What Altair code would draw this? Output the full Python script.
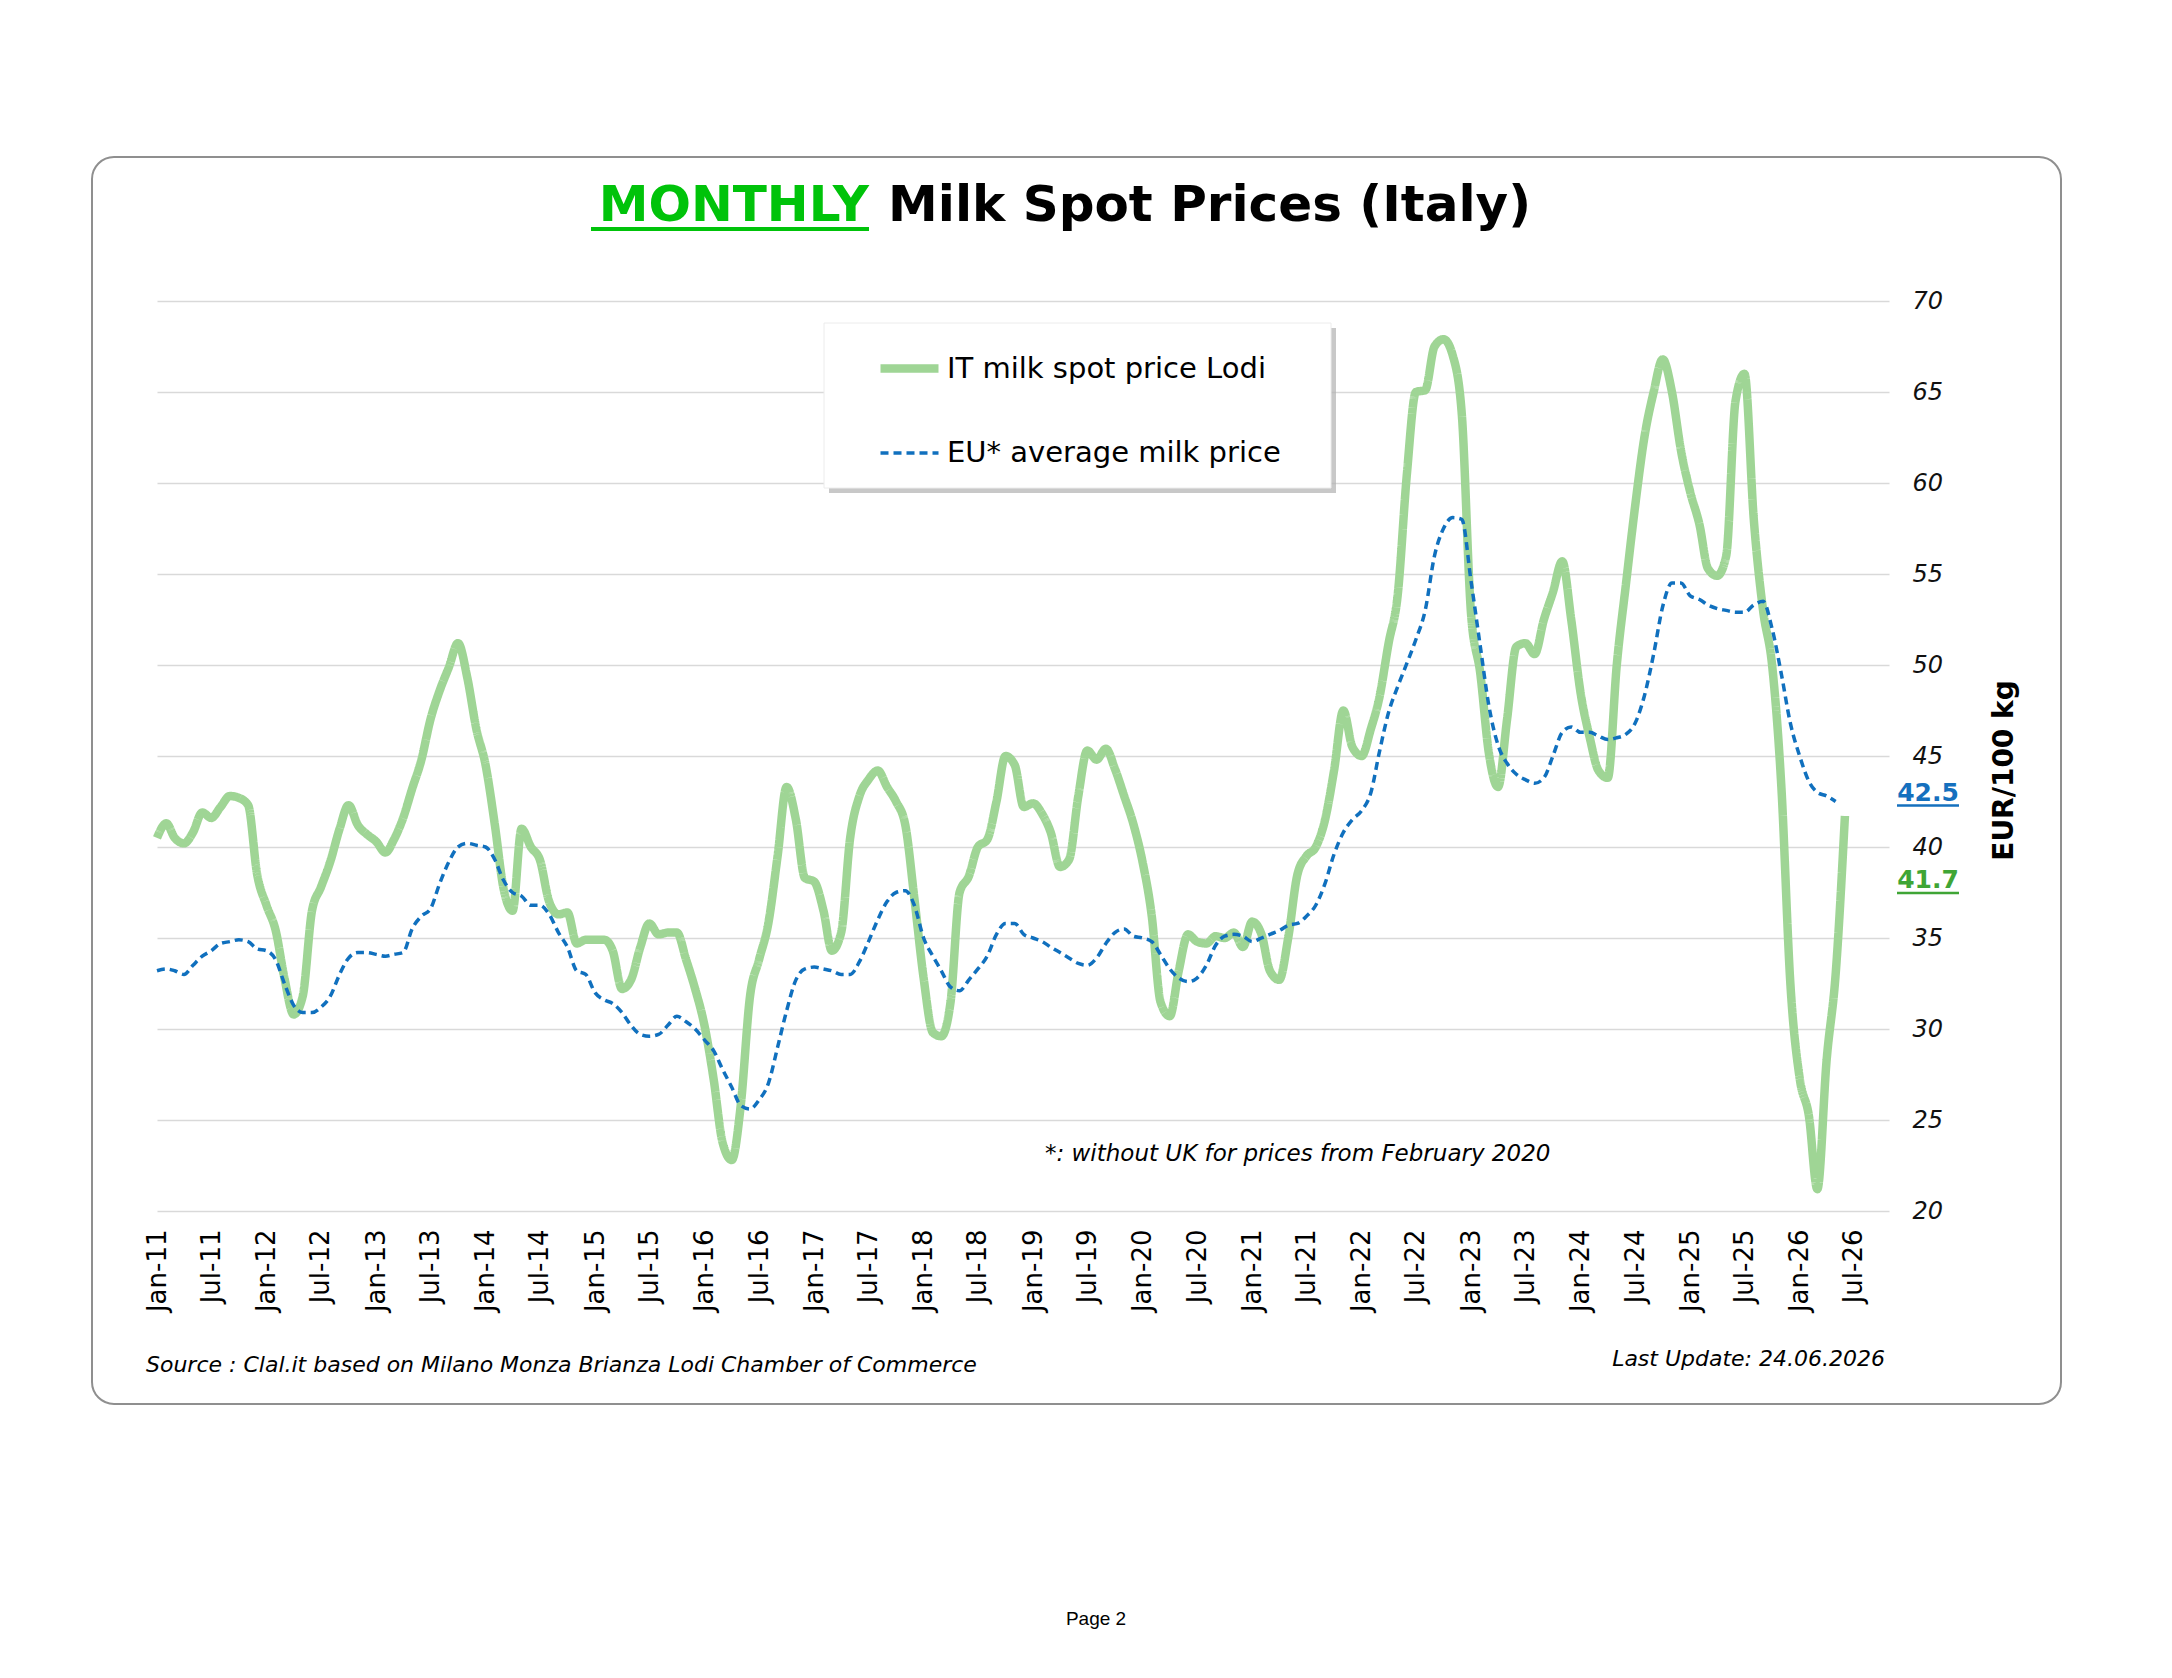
import altair as alt
import pandas as pd

# ---------------- data ----------------
series_it = "IT milk spot price Lodi"
series_eu = "EU* average milk price"

it_lodi = [
    40.5, 41.3, 40.5, 40.2, 40.8, 41.9, 41.6, 42.2, 42.8, 42.7, 42.3, 38.5,
    36.8, 35.4, 32.8, 30.8, 31.8, 36.5, 37.8, 39.2, 41.0, 42.3, 41.2, 40.7,
    40.3, 39.7, 40.4, 41.6, 43.2, 44.8, 47.0, 48.6, 49.9, 51.2, 49.3, 46.5,
    44.5, 41.2, 37.8, 36.5, 41.0, 40.0, 39.3, 37.0, 36.3, 36.4, 34.7, 34.9,
    34.9, 34.9, 34.3, 32.2, 32.7, 34.5, 35.8, 35.2, 35.3, 35.3, 33.8, 32.2,
    30.2, 27.2, 23.8, 22.8, 25.8, 31.8, 33.8, 35.8, 39.5, 43.3, 41.5, 38.3,
    38.1, 36.5, 34.3, 35.3, 40.5, 42.8, 43.7, 44.2, 43.3, 42.5, 41.2, 37.2,
    32.8, 29.8, 29.6, 31.5, 37.5, 38.4, 40.0, 40.4, 42.5, 45.0, 44.5, 42.2,
    42.4, 41.8, 40.8, 38.9, 39.3, 42.8, 45.3, 44.8, 45.4, 44.3, 42.8, 41.3,
    39.2, 36.2, 31.5, 30.7, 33.2, 35.2, 34.8, 34.7, 35.1, 35.0, 35.3, 34.5,
    35.9, 35.2, 33.2, 32.7, 35.0, 38.5, 39.5, 40.0, 41.5, 44.2, 47.5, 45.5,
    45.0, 46.5, 48.2, 51.2, 53.8, 60.5, 65.0, 65.1, 67.5, 67.9, 67.0, 63.8,
    52.8, 49.5, 45.2, 43.3, 47.0, 51.0, 51.2, 50.6, 52.5, 54.0, 55.7, 52.5,
    48.5, 46.0, 44.2, 43.8, 50.0, 54.5, 58.7, 62.5, 65.0, 66.8, 65.0, 61.8,
    59.5, 57.7, 55.3, 54.9, 56.0, 64.5, 66.0, 58.0, 53.0, 50.0, 43.3, 32.5,
    27.3, 25.2, 21.2, 28.3, 33.0, 41.7,
]

eu_avg = [
    33.2, 33.3, 33.2, 33.0, 33.5, 34.0, 34.3, 34.7, 34.8, 34.9, 34.8, 34.4,
    34.3, 33.8, 32.5, 31.3, 30.9, 30.9, 31.2, 31.8, 33.0, 33.9, 34.2, 34.2,
    34.1, 34.0, 34.1, 34.2, 35.5, 36.2, 36.6, 38.0, 39.2, 40.0, 40.2, 40.1,
    40.0, 39.3, 38.2, 37.5, 37.3, 36.8, 36.8, 36.3, 35.3, 34.5, 33.2, 33.0,
    32.0, 31.6, 31.4, 30.9, 30.2, 29.7, 29.6, 29.7, 30.2, 30.7, 30.4, 30.0,
    29.4, 28.8, 27.8, 26.8, 25.8, 25.6, 26.1, 27.0, 29.0, 31.0, 32.7, 33.3,
    33.4, 33.3, 33.2, 33.0, 33.0, 33.7, 34.8, 36.0, 37.0, 37.5, 37.6, 36.8,
    35.0, 34.0, 33.2, 32.3, 32.1, 32.7, 33.3, 34.0, 35.2, 35.8, 35.8, 35.2,
    35.0, 34.8, 34.5, 34.2, 33.9, 33.6, 33.5, 33.9, 34.7, 35.3, 35.5, 35.1,
    35.0, 34.8, 34.1, 33.3, 32.8, 32.6, 32.8, 33.5, 34.6, 35.1, 35.2, 35.1,
    34.8, 35.0, 35.2, 35.4, 35.7, 35.8, 36.2, 36.8, 38.0, 39.6, 40.8, 41.5,
    42.0, 43.0, 45.2, 47.4, 48.8, 50.1, 51.4, 53.0, 56.0, 57.5, 58.1, 58.0,
    54.6, 51.0, 47.8, 45.6, 44.6, 44.0, 43.7, 43.5, 43.8, 45.0, 46.3, 46.6,
    46.3, 46.3, 46.1, 45.9, 46.0, 46.2, 46.8, 48.3, 50.6, 53.2, 54.5, 54.5,
    53.8, 53.6, 53.3, 53.1, 53.0, 52.9, 52.9, 53.3, 53.5, 52.0, 49.5, 46.8,
    45.0, 43.6, 43.0, 42.8, 42.5,
]

y_ticks = [20, 25, 30, 35, 40, 45, 50, 55, 60, 65, 70]
tick_years = list(range(2011, 2027))

title_green = "MONTHLY"
title_black = "Milk Spot Prices (Italy)"
y_title = "EUR/100 kg"
note_text = "*: without UK for prices from February 2020"
source_text = "Source : Clal.it based on Milano Monza Brianza Lodi Chamber of Commerce"
update_text = "Last Update: 24.06.2026"
page_text = "Page 2"

# ---------------- helpers ----------------
def ms(ts):
    return int(pd.Timestamp(ts).value // 10**6)

months = pd.date_range("2011-01-01", periods=len(it_lodi), freq="MS")
rows = []
for d, v in zip(months, it_lodi):
    rows.append({"t": ms(d), "series": series_it, "value": v})
for d, v in zip(months[:len(eu_avg)], eu_avg):
    rows.append({"t": ms(d), "series": series_eu, "value": v})
df = pd.DataFrame(rows)

tick_values = []
for yr in tick_years:
    tick_values.append(ms(f"{yr}-01-01"))
    tick_values.append(ms(f"{yr}-07-01"))

GREEN = "#9FD595"
BLUE = "#1070BE"
W, H = 1732, 910
FONT = "DejaVu Sans"

x_enc = alt.X(
    "t:T",
    scale=alt.Scale(type="utc", domain=[ms("2011-01-01"), ms("2026-10-26")]),
    axis=alt.Axis(values=tick_values, labelExpr="utcFormat(datum.value, '%b-%y')",
                  labelAngle=270, labelFont=FONT, labelFontSize=26,
                  labelColor="#000000", labelPadding=18, ticks=False,
                  domain=False, grid=False, title=None, labelOverlap=False),
)
y_enc = alt.Y(
    "value:Q",
    scale=alt.Scale(domain=[20, 70], nice=False, zero=False),
    axis=alt.Axis(orient="right", values=y_ticks, labelFont=FONT,
                  labelFontStyle="italic", labelFontSize=24, labelColor="#111111",
                  labelPadding=23, labelAlign="left", ticks=False, domain=False,
                  gridColor="#d9d9d9", gridWidth=1.5,
                  title=y_title, titleAngle=270, titleFont=FONT, titleFontSize=28,
                  titleFontWeight="bold", titleColor="#000000",
                  titleX=115, titleY=469, titleAlign="center", titleBaseline="middle"),
)

leg = alt.Legend(title=None, orient="none", legendX=719, legendY=34,
                 symbolType="stroke", symbolSize=3364, labelFont=FONT,
                 labelFontSize=29, labelColor="#000000", rowPadding=36,
                 labelOffset=4, padding=0, labelLimit=1000)
dom = [series_it, series_eu]

lines = alt.Chart(df).mark_line(interpolate="monotone").encode(
    x=x_enc,
    y=y_enc,
    color=alt.Color("series:N", scale=alt.Scale(domain=dom, range=[GREEN, BLUE]), legend=leg),
    strokeDash=alt.StrokeDash("series:N", scale=alt.Scale(domain=dom, range=[[1, 0], [8, 5]]), legend=leg),
    strokeWidth=alt.StrokeWidth("series:N", scale=alt.Scale(domain=dom, range=[8.5, 3.5]), legend=leg),
    order=alt.Order("t:Q"),
)

one = pd.DataFrame({"k": [1]})

frame = alt.Chart(one).mark_rect(fillOpacity=0, stroke="#8f8f8f", strokeWidth=2,
                                 cornerRadius=22).encode(
    x=alt.value(-65), x2=alt.value(1904), y=alt.value(-144), y2=alt.value(1103))

legend_shadow = alt.Chart(one).mark_rect(fill="#b0b0b0", opacity=0.7).encode(
    x=alt.value(672), x2=alt.value(1179), y=alt.value(27), y2=alt.value(192))
legend_box = alt.Chart(one).mark_rect(fill="white", stroke="#ececec", strokeWidth=1).encode(
    x=alt.value(667), x2=alt.value(1174), y=alt.value(22), y2=alt.value(187))

t1 = alt.Chart(pd.DataFrame({"label": [title_green]})).mark_text(
    font=FONT, fontSize=50, fontWeight="bold", color="#00C30A", align="right",
    baseline="alphabetic").encode(x=alt.value(712), y=alt.value(-80), text="label:N")
t1u = alt.Chart(one).mark_rule(color="#00C30A", strokeWidth=4).encode(
    x=alt.value(434), x2=alt.value(712), y=alt.value(-72))
t2 = alt.Chart(pd.DataFrame({"label": [title_black]})).mark_text(
    font=FONT, fontSize=50, fontWeight="bold", color="#000000", align="left",
    baseline="alphabetic").encode(x=alt.value(731), y=alt.value(-80), text="label:N")

last_eu = pd.DataFrame({"value": [eu_avg[-1]], "label": [f"{eu_avg[-1]:.1f}"]})
last_it = pd.DataFrame({"value": [it_lodi[-1]], "label": [f"{it_lodi[-1]:.1f}"]})

lab_eu = alt.Chart(last_eu).mark_text(font=FONT, fontSize=25, fontWeight="bold",
                                      color="#1570BE", align="center", baseline="middle",
                                      yOffset=-9).encode(x=alt.value(1771), y=y_enc, text="label:N")
lab_eu_u = alt.Chart(last_eu).mark_rule(color="#1570BE", strokeWidth=2.5, yOffset=4).encode(
    x=alt.value(1740), x2=alt.value(1802), y=y_enc)
lab_it = alt.Chart(last_it).mark_text(font=FONT, fontSize=25, fontWeight="bold",
                                      color="#3FA535", align="center", baseline="middle",
                                      yOffset=64).encode(x=alt.value(1771), y=y_enc, text="label:N")
lab_it_u = alt.Chart(last_it).mark_rule(color="#3FA535", strokeWidth=2.5, yOffset=77).encode(
    x=alt.value(1740), x2=alt.value(1802), y=y_enc)

note = alt.Chart(pd.DataFrame({"label": [note_text]})).mark_text(
    font=FONT, fontSize=23, fontStyle="italic", color="#000000", align="left",
    baseline="middle").encode(x=alt.value(888), y=alt.value(853), text="label:N")
source = alt.Chart(pd.DataFrame({"label": [source_text]})).mark_text(
    font=FONT, fontSize=22, fontStyle="italic", color="#000000", align="left",
    baseline="middle").encode(x=alt.value(-11), y=alt.value(1064), text="label:N")
update = alt.Chart(pd.DataFrame({"label": [update_text]})).mark_text(
    font=FONT, fontSize=22, fontStyle="italic", color="#000000", align="right",
    baseline="middle").encode(x=alt.value(1728), y=alt.value(1058), text="label:N")
page = alt.Chart(pd.DataFrame({"label": [page_text]})).mark_text(
    font="Liberation Sans", fontSize=19, color="#000000", align="center",
    baseline="middle").encode(x=alt.value(939), y=alt.value(1318), text="label:N")

chart = alt.layer(
    frame, lines, legend_shadow, legend_box, t1, t1u, t2,
    lab_eu, lab_eu_u, lab_it, lab_it_u, note, source, update, page,
).properties(
    width=W, height=H,
    autosize=alt.AutoSizeParams(type="none"),
    padding={"left": 149, "top": 293, "right": 275, "bottom": 459},
    background="white",
).configure(font=FONT).configure_view(strokeWidth=0, stroke="transparent")

chart.save("out.html", embed_options={"renderer": "svg", "actions": False})
